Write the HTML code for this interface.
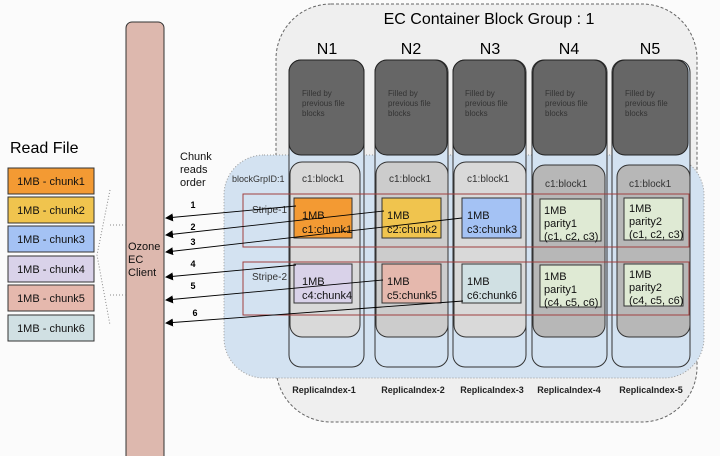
<!DOCTYPE html>
<html><head><meta charset="utf-8"><style>
html,body{margin:0;padding:0;background:#fbfbfb;}
svg{display:block;font-family:"Liberation Sans",Arial,sans-serif;}
</style></head><body>
<svg width="720" height="456" viewBox="0 0 720 456" xmlns="http://www.w3.org/2000/svg">
<defs>
<marker id="ah" markerWidth="8" markerHeight="8" refX="7" refY="4" orient="auto" markerUnits="userSpaceOnUse">
<path d="M0,0 L8,4 L0,8 z" fill="#000"/></marker>
</defs>
<rect x="276" y="4" width="421" height="418" rx="55" fill="#efefef" stroke="#666" stroke-width="1" stroke-dasharray="3,2"/>
<text x="489" y="24" font-size="16" text-anchor="middle" fill="#000">EC Container Block Group : 1</text>
<g font-size="16" text-anchor="middle" fill="#000">
<text x="327" y="54">N1</text><text x="411" y="54">N2</text><text x="490" y="54">N3</text><text x="569" y="54">N4</text><text x="650" y="54">N5</text>
</g>
<rect x="224" y="155" width="480" height="223" rx="40" fill="#d3e2f1" stroke="#999" stroke-width="1" stroke-dasharray="1,2"/>
<g fill="#d3e2f1" stroke="#333" stroke-width="1">
<rect x="289" y="60" width="75" height="307" rx="12"/>
<rect x="375" y="60" width="73" height="307" rx="12"/>
<rect x="453" y="60" width="73" height="307" rx="12"/>
<rect x="532" y="60" width="75" height="307" rx="12"/>
<rect x="612" y="60" width="78" height="307" rx="12"/>
</g>
<g fill="#666" stroke="#222" stroke-width="1">
<rect x="289" y="60" width="75" height="95" rx="12"/>
<rect x="375" y="60" width="72" height="95" rx="12"/>
<rect x="453" y="60" width="72" height="95" rx="12"/>
<rect x="533" y="60" width="73" height="95" rx="12"/>
<rect x="613" y="60" width="75" height="95" rx="12"/>
</g>
<g font-size="8" fill="#333">
<text x="302" y="96">Filled by</text><text x="302" y="106">previous file</text><text x="302" y="116">blocks</text>
<text x="388" y="96">Filled by</text><text x="388" y="106">previous file</text><text x="388" y="116">blocks</text>
<text x="465" y="96">Filled by</text><text x="465" y="106">previous file</text><text x="465" y="116">blocks</text>
<text x="545" y="96">Filled by</text><text x="545" y="106">previous file</text><text x="545" y="116">blocks</text>
<text x="625" y="96">Filled by</text><text x="625" y="106">previous file</text><text x="625" y="116">blocks</text>
</g>
<g stroke="#333" stroke-width="1">
<rect x="290" y="162" width="70" height="175" rx="12" fill="#d9d9d9"/>
<rect x="376" y="162" width="72" height="175" rx="12" fill="#cccccc"/>
<rect x="454" y="162" width="72" height="175" rx="12" fill="#d9d9d9"/>
<rect x="533" y="165" width="72" height="172" rx="12" fill="#b7b7b7"/>
<rect x="617" y="165" width="73" height="172" rx="12" fill="#b7b7b7"/>
</g>
<g font-size="10" fill="#333">
<text x="302" y="182">c1:block1</text><text x="389" y="182">c1:block1</text><text x="467" y="182">c1:block1</text>
<text x="545" y="187">c1:block1</text><text x="629" y="187">c1:block1</text>
</g>
<text x="232" y="182" font-size="9" fill="#333">blockGrpID:1</text>
<rect x="243" y="194" width="446" height="53" fill="none" stroke="#a04040" stroke-width="1"/>
<rect x="243" y="262" width="446" height="53" fill="none" stroke="#a04040" stroke-width="1"/>
<text x="252" y="213" font-size="10" fill="#333">Stripe-1</text>
<text x="252" y="280" font-size="10" fill="#333">Stripe-2</text>
<g stroke="#333" stroke-width="1">
<rect x="294" y="198" width="58" height="40" fill="#f39a33"/>
<rect x="382" y="198" width="59" height="40" fill="#f0c44e"/>
<rect x="462" y="198" width="59" height="40" fill="#a4c2f4"/>
<rect x="540" y="199" width="61" height="42" fill="#dfead4"/>
<rect x="624" y="198" width="59" height="42" fill="#dfead4"/>
<rect x="294" y="264" width="58" height="39" fill="#d9d2e9"/>
<rect x="382" y="264" width="59" height="39" fill="#e5b8ad"/>
<rect x="462" y="264" width="59" height="39" fill="#d0e0e3"/>
<rect x="540" y="265" width="61" height="42" fill="#dfead4"/>
<rect x="624" y="264" width="59" height="42" fill="#dfead4"/>
</g>
<g font-size="11" fill="#111">
<text x="302" y="219">1MB</text><text x="302" y="233">c1:chunk1</text>
<text x="387" y="219">1MB</text><text x="387" y="233">c2:chunk2</text>
<text x="467" y="219">1MB</text><text x="467" y="233">c3:chunk3</text>
<text x="544" y="214">1MB</text><text x="544" y="227">parity1</text><text x="544" y="240">(c1, c2, c3)</text>
<text x="629" y="212">1MB</text><text x="629" y="225">parity2</text><text x="629" y="238">(c1, c2, c3)</text>
<text x="302" y="285">1MB</text><text x="302" y="299">c4:chunk4</text>
<text x="387" y="285">1MB</text><text x="387" y="299">c5:chunk5</text>
<text x="467" y="285">1MB</text><text x="467" y="299">c6:chunk6</text>
<text x="544" y="280">1MB</text><text x="544" y="293">parity1</text><text x="544" y="306">(c4, c5, c6)</text>
<text x="629" y="278">1MB</text><text x="629" y="291">parity2</text><text x="629" y="304">(c4, c5, c6)</text>
</g>
<g font-size="9" font-weight="bold" fill="#222" text-anchor="middle">
<text x="324" y="393">ReplicaIndex-1</text><text x="413" y="393">ReplicaIndex-2</text><text x="492" y="393">ReplicaIndex-3</text>
<text x="569" y="393">ReplicaIndex-4</text><text x="651" y="393">ReplicaIndex-5</text>
</g>
<rect x="126" y="22" width="38" height="450" rx="6" fill="#ddb8ae" stroke="#333" stroke-width="1"/>
<text x="128" y="250" font-size="11" fill="#111">Ozone</text>
<text x="128" y="263" font-size="11" fill="#111">EC</text>
<text x="128" y="276" font-size="11" fill="#111">Client</text>
<text x="180" y="160" font-size="11" fill="#111">Chunk</text>
<text x="180" y="173" font-size="11" fill="#111">reads</text>
<text x="180" y="186" font-size="11" fill="#111">order</text>
<g font-size="9" font-weight="bold" fill="#000" text-anchor="middle">
<text x="193" y="208">1</text><text x="193" y="230">2</text><text x="193" y="245">3</text>
<text x="193" y="267">4</text><text x="193" y="289">5</text><text x="195" y="316">6</text>
</g>
<g stroke="#000" stroke-width="0.9" marker-end="url(#ah)">
<line x1="296" y1="206" x2="166" y2="218"/>
<line x1="384" y1="211" x2="166" y2="235"/>
<line x1="462" y1="218" x2="166" y2="252"/>
<line x1="296" y1="265" x2="166" y2="277"/>
<line x1="383" y1="280" x2="166" y2="300"/>
<line x1="463" y1="301" x2="166" y2="323"/>
</g>
<path d="M110,190 L97,255 L110,325 M110,225 L128,225 M110,295 L128,295" fill="none" stroke="#888" stroke-width="1" stroke-dasharray="1,2"/>
<text x="10" y="153" font-size="16" fill="#000">Read File</text>
<g stroke="#333" stroke-width="1">
<rect x="8" y="168" width="86" height="26" fill="#f39a33"/>
<rect x="8" y="197" width="86" height="26" fill="#f0c44e"/>
<rect x="8" y="226" width="86" height="26" fill="#a4c2f4"/>
<rect x="8" y="256" width="86" height="26" fill="#d9d2e9"/>
<rect x="8" y="285" width="86" height="26" fill="#e5b8ad"/>
<rect x="8" y="315" width="86" height="26" fill="#d0e0e3"/>
</g>
<g font-size="11" fill="#111" text-anchor="middle">
<text x="51" y="185">1MB - chunk1</text><text x="51" y="214">1MB - chunk2</text><text x="51" y="243">1MB - chunk3</text>
<text x="51" y="273">1MB - chunk4</text><text x="51" y="302">1MB - chunk5</text><text x="51" y="332">1MB - chunk6</text>
</g>
</svg>
</body></html>
